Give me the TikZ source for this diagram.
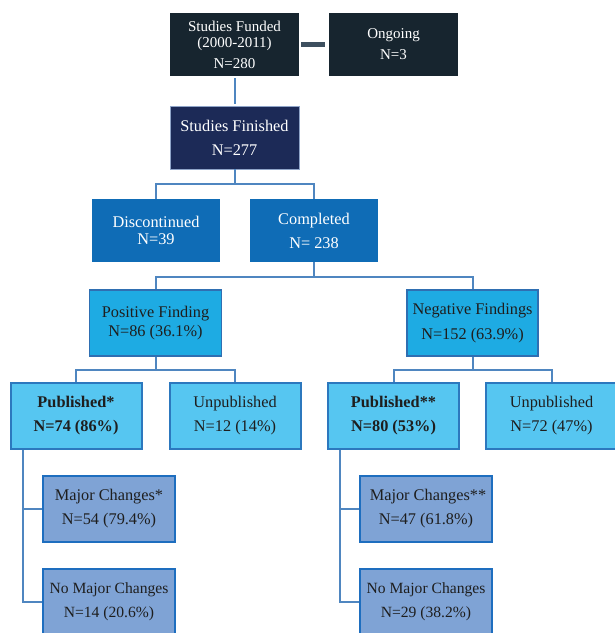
\documentclass[tikz,border=0pt]{standalone}
\usepackage{fontspec}
\setmainfont{Liberation Serif}
\definecolor{cdark}{HTML}{17252F}
\definecolor{cnavy}{HTML}{1C2A57}
\definecolor{cnavyb}{HTML}{8FA4C8}
\definecolor{cmid}{HTML}{0F6CB6}
\definecolor{cpos}{HTML}{1EABE3}
\definecolor{cposb}{HTML}{2F6FB2}
\definecolor{cpub}{HTML}{56C6F1}
\definecolor{cpubb}{HTML}{2C78BE}
\definecolor{cmaj}{HTML}{7FA3D5}
\definecolor{cmajb}{HTML}{1E6EBF}
\definecolor{cline}{HTML}{4F86C0}
\definecolor{cbar}{HTML}{3D4F5F}
\definecolor{ctext}{HTML}{1E1E1E}
\tikzset{
  bx/.style={rectangle, inner sep=0pt, align=center, minimum height=63pt},
  topbox/.style={bx, fill=cdark, text=white, minimum width=129pt, font=\fontsize{15}{16}\selectfont},
  finbox/.style={bx, fill=cnavy, draw=cnavyb, line width=0.8pt, text=white, minimum width=129pt, font=\fontsize{16.3}{24}\selectfont},
  midbox/.style={bx, fill=cmid, text=white, minimum width=128pt, font=\fontsize{16.3}{24}\selectfont},
  posbox/.style={bx, fill=cpos, draw=cposb, line width=1.5pt, text=ctext, minimum width=132pt, minimum height=66pt, font=\fontsize{16.3}{24}\selectfont},
  pubbox/.style={bx, fill=cpub, draw=cpubb, line width=2pt, text=ctext, minimum width=131pt, minimum height=66pt, font=\fontsize{16.3}{24}\selectfont},
  majbox/.style={bx, fill=cmaj, draw=cmajb, line width=2pt, text=ctext, minimum width=132pt, minimum height=66pt, font=\fontsize{16.3}{24}\selectfont},
  ln/.style={draw=cline, line width=2pt},
}
\begin{document}
\begin{tikzpicture}[x=1pt,y=-1pt]
\useasboundingbox (0,0) rectangle (615,633);
\begin{scope}
\clip (0,0) rectangle (615,633);
% nodes
\node[topbox] (fund) at (234.5,44.5) {Studies Funded\\(2000-2011)\\[5pt]N=280};
\node[topbox, font=\fontsize{15}{21}\selectfont] (ong) at (393.5,44.5) {Ongoing\\N=3};
\node[finbox] (fin) at (234.5,137.5) {Studies Finished\\N=277};
\node[midbox, font=\fontsize{16.3}{17}\selectfont] (disc) at (156,230.5) {Discontinued\\N=39};
\node[midbox] (comp) at (314,230.5) {Completed\\N= 238};
\node[posbox, font=\fontsize{16.3}{19.5}\selectfont] (pos) at (155.5,323) {Positive Finding\\N=86 (36.1\%)};
\node[posbox, minimum width=131pt, font=\fontsize{16.3}{25}\selectfont] (neg) at (472.5,323) {Negative Findings\\N=152 (63.9\%)};
\node[pubbox] (pub1) at (76,416) {\textbf{Published*}\\\textbf{N=74 (86\%)}};
\node[pubbox] (unp1) at (235,416) {Unpublished\\N=12 (14\%)};
\node[pubbox] (pub2) at (393.5,416) {\textbf{Published**}\\\textbf{N=80 (53\%)}};
\node[pubbox] (unp2) at (551.5,416) {Unpublished\\N=72 (47\%)};
\node[majbox] (maj1) at (109,509) {Major Changes*\\N=54 (79.4\%)};
\node[majbox, font=\fontsize{15.6}{24}\selectfont] (nomaj1) at (109,602) {No Major Changes\\N=14 (20.6\%)};
\node[majbox] (maj2) at (426,509) {\hspace*{4pt}Major Changes**\\N=47 (61.8\%)};
\node[majbox, font=\fontsize{15.6}{24}\selectfont] (nomaj2) at (426,602) {No Major Changes\\N=29 (38.2\%)};
% connectors
\draw[draw=cbar, line width=5pt, shorten <=2pt, shorten >=4pt] (fund.east) -- (ong.west);
\draw[ln, shorten <=2pt, shorten >=2pt] (fund.south) -- (fin.north);
\draw[ln] (fin.south) -- ++(0,15) -| (disc.north);
\draw[ln] (fin.south) -- ++(0,15) -| (comp.north);
\draw[ln] (comp.south) -- ++(0,15) -| (pos.north);
\draw[ln] (comp.south) -- ++(0,15) -| (neg.north);
\draw[ln] (pos.south) -- ++(0,13) -| (pub1.north);
\draw[ln] (pos.south) -- ++(0,13) -| (unp1.north);
\draw[ln] (neg.south) -- ++(0,13) -| (pub2.north);
\draw[ln] (neg.south) -- ++(0,13) -| (unp2.north);
\coordinate (b1) at ([xshift=13.5pt]pub1.south west);
\coordinate (b2) at ([xshift=13pt]pub2.south west);
\draw[ln] (b1) |- (maj1.west);
\draw[ln] (b1) |- (nomaj1.west);
\draw[ln] (b2) |- (maj2.west);
\draw[ln] (b2) |- (nomaj2.west);
\end{scope}
\end{tikzpicture}
\end{document}
